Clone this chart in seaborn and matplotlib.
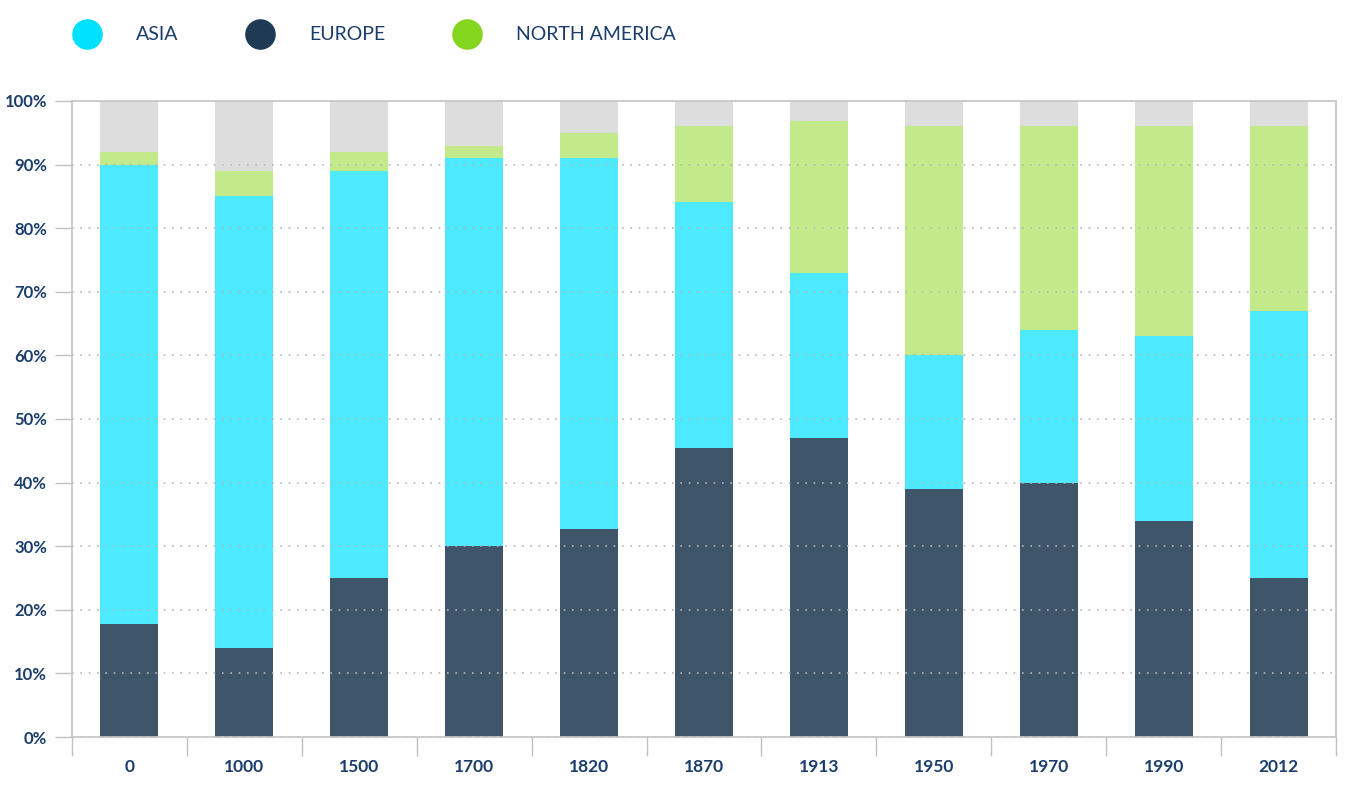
import matplotlib
matplotlib.use("Agg")
import matplotlib.pyplot as plt
from matplotlib.lines import Line2D
from matplotlib.ticker import FixedLocator
import seaborn as sns
import pandas as pd
import numpy as np

years = ["0", "1000", "1500", "1700", "1820", "1870", "1913", "1950", "1970", "1990", "2012"]
europe = [17.8, 14.0, 25.0, 30.0, 32.7, 45.4, 47.0, 39.0, 40.0, 34.0, 25.0]
asia = [72.2, 71.0, 64.0, 61.0, 58.3, 38.7, 26.0, 21.0, 24.0, 29.0, 42.0]
north_america = [2.0, 4.0, 3.0, 2.0, 4.0, 11.9, 23.9, 36.0, 32.0, 33.0, 29.0]
series_names = ["ASIA", "EUROPE", "NORTH AMERICA"]

df = pd.DataFrame({"year": years, "europe": europe, "asia": asia, "na": north_america})
df["c_eu"] = df["europe"]
df["c_asia"] = df["c_eu"] + df["asia"]
df["c_na"] = df["c_asia"] + df["na"]
df["c_other"] = 100.0

sns.set_theme(style="white")
plt.rcParams["font.family"] = ["Lato", "DejaVu Sans"]

TXT = "#1b3d6c"
col_eu, col_asia, col_na, col_other = "#3f5569", "#4de9ff", "#c2e98a", "#dddddd"

fig = plt.figure(figsize=(13.59, 7.87), dpi=100)
ax = fig.add_axes([72 / 1359, 1 - 737 / 787, (1336 - 72) / 1359, (737 - 101) / 787])

for col, c in [("c_other", col_other), ("c_na", col_na), ("c_asia", col_asia), ("c_eu", col_eu)]:
    sns.barplot(data=df, x="year", y=col, color=c, width=0.505, saturation=1, ax=ax,
                zorder=2, linewidth=0, edgecolor="none")

ax.set_xlim(-0.5, len(years) - 0.5)
ax.set_ylim(0, 100)
ax.set_xlabel("")
ax.set_ylabel("")

ax.set_yticks(np.arange(0, 101, 10))
ax.set_yticklabels([f"{v}%" for v in range(0, 101, 10)], color=TXT, fontsize=12)
ax.yaxis.grid(True, linestyle=(0, (1, 4)), color="#b5b5b5", linewidth=1.2, zorder=3)
ax.set_axisbelow(False)
for line in ax.get_ygridlines():
    line.set_zorder(3)

ax.tick_params(axis="y", which="major", length=12, width=1, color="#c0c0c0", pad=6, left=True)
ax.tick_params(axis="x", which="major", length=0, pad=16, labelsize=12.5, labelcolor=TXT)
ax.xaxis.set_minor_locator(FixedLocator(np.arange(-0.5, len(years), 1.0)))
ax.tick_params(axis="x", which="minor", length=14, width=1, color="#c0c0c0", bottom=True)
for lbl in ax.get_xticklabels():
    lbl.set_fontweight("bold")
for lbl in ax.get_yticklabels():
    lbl.set_fontweight("bold")

for side in ["left", "bottom", "right", "top"]:
    ax.spines[side].set_visible(True)
    ax.spines[side].set_color("#c4c4c4")
    ax.spines[side].set_linewidth(1.2)
    ax.spines[side].set_zorder(4)

handles = [
    Line2D([], [], marker="o", linestyle="none", markersize=21, markerfacecolor=c, markeredgecolor=c)
    for c in ["#00e0ff", "#1f3a55", "#84d51e"]
]
leg = fig.legend(handles, series_names, loc="center left", bbox_to_anchor=(67.5 / 1359, 1 - 35 / 787),
                 ncol=3, frameon=False, handletextpad=1.92, columnspacing=3.6, fontsize=14,
                 borderaxespad=0, handlelength=1.2)
for t in leg.get_texts():
    t.set_color(TXT)

fig.savefig("out.png", dpi=100, facecolor="white")
